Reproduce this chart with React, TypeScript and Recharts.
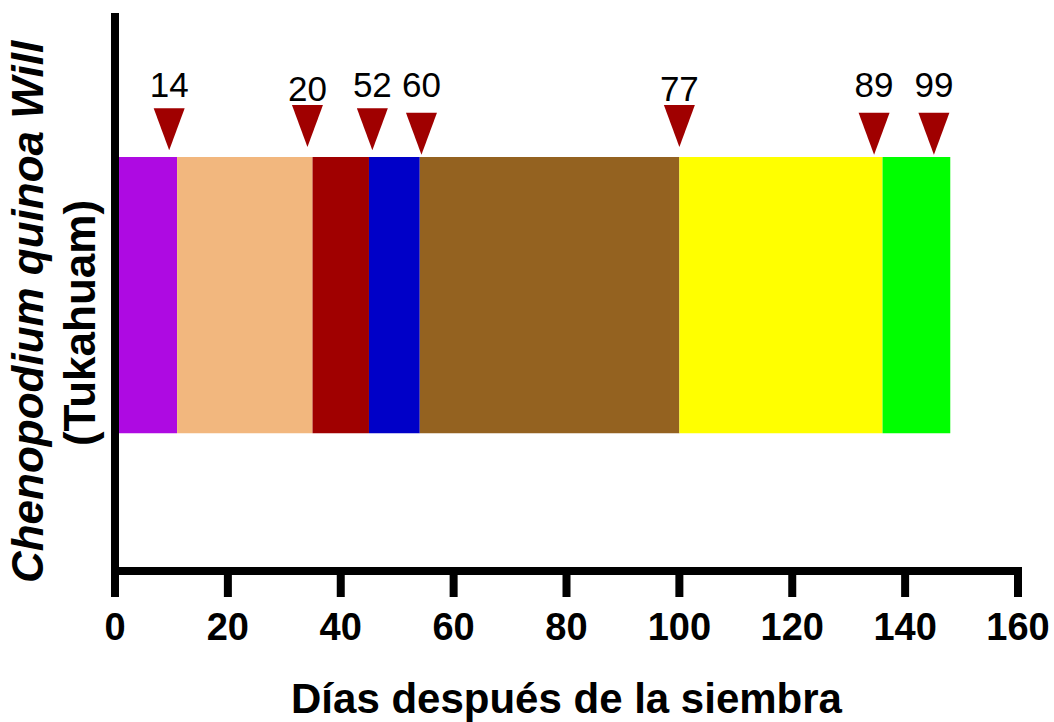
import {
  ComposedChart,
  ReferenceArea,
  Scatter,
  XAxis,
  YAxis,
} from 'recharts'

document.body.style.margin = '0'

const FONT = '"Liberation Sans", Arial, sans-serif'

// phase boundaries along the x axis (days)
const PHASE_STARTS = [0, 11, 35, 45, 54, 100, 136]
const PHASE_ENDS = [11, 35, 45, 54, 100, 136, 148]
const PHASE_COLORS = ['#ae0ae2', '#f2b77e', '#a00000', '#0000c8', '#946220', '#ffff00', '#00ff00']
const BAR_BOTTOM = 24.7
const BAR_TOP = 74.2

// marker positions and their labels
const MARKER_X = [9.6, 34.1, 45.6, 54.3, 100, 134.5, 145.1]
const MARKER_TIP_Y = [75.4, 76.0, 75.4, 74.6, 76.0, 74.6, 74.6]
const MARKER_LABELS = ['14', '20', '52', '60', '77', '89', '99']
const LABEL_Y = [84.9, 84.2, 84.9, 84.9, 84.2, 84.9, 84.9]

const X_TICKS = [0, 20, 40, 60, 80, 100, 120, 140, 160]

const MARKER_COLOR = '#a00000'

const markers = MARKER_X.map((x, i) => ({ x, y: MARKER_TIP_Y[i] }))
const labels = MARKER_X.map((x, i) => ({ x, y: LABEL_Y[i], text: MARKER_LABELS[i] }))

function Triangle({ cx, cy }: any) {
  const w = 15.5
  const h = 42
  return (
    <polygon
      points={`${cx - w},${cy - h} ${cx + w},${cy - h} ${cx},${cy}`}
      fill={MARKER_COLOR}
    />
  )
}

function MarkerLabel({ cx, cy, payload }: any) {
  return (
    <text x={cx} y={cy} textAnchor="middle" fontSize={35} fontFamily={FONT} fill="#000">
      {payload.text}
    </text>
  )
}

function YTitle() {
  return (
    <g fontFamily={FONT} fontWeight="bold" fontSize={44} fill="#000">
      <text x={43} y={312} textAnchor="middle" fontStyle="italic" transform="rotate(-90 43 312)">
        Chenopodium quinoa Will
      </text>
      <text x={95} y={323} textAnchor="middle" transform="rotate(-90 95 323)">
        (Tukahuam)
      </text>
    </g>
  )
}

function XTitle({ viewBox }: any) {
  const cx = viewBox ? viewBox.x + viewBox.width / 2 : 566
  return (
    <text x={cx} y={713} textAnchor="middle" fontFamily={FONT} fontWeight="bold" fontSize={42} fill="#000">
      Días después de la siembra
    </text>
  )
}

export default function App() {
  return (
    <div style={{ width: 1054, height: 722, background: '#fff' }}>
      <ComposedChart width={1054} height={722} margin={{ top: 13, right: 36, bottom: 0, left: 0 }}>
        <XAxis
          type="number"
          dataKey="x"
          domain={[0, 160]}
          ticks={X_TICKS}
          interval={0}
          height={151}
          axisLine={{ stroke: '#000', strokeWidth: 8, strokeLinecap: 'square' }}
          tickLine={{ stroke: '#000', strokeWidth: 8 }}
          tickSize={26}
          tickMargin={16}
          tick={{ fill: '#000', fontSize: 38, fontWeight: 'bold', fontFamily: FONT }}
          label={{ content: <XTitle /> }}
        />
        <YAxis
          type="number"
          dataKey="y"
          domain={[0, 100]}
          width={115}
          tick={false}
          tickLine={false}
          axisLine={{ stroke: '#000', strokeWidth: 8 }}
          label={{ content: <YTitle /> }}
        />
        {PHASE_STARTS.map((start, i) => (
          <ReferenceArea
            key={i}
            x1={start}
            x2={PHASE_ENDS[i]}
            y1={BAR_BOTTOM}
            y2={BAR_TOP}
            fill={PHASE_COLORS[i]}
            fillOpacity={1}
            stroke="none"
            ifOverflow="visible"
          />
        ))}
        <Scatter data={markers} shape={<Triangle />} isAnimationActive={false} />
        <Scatter data={labels} shape={<MarkerLabel />} isAnimationActive={false} />
      </ComposedChart>
    </div>
  )
}
